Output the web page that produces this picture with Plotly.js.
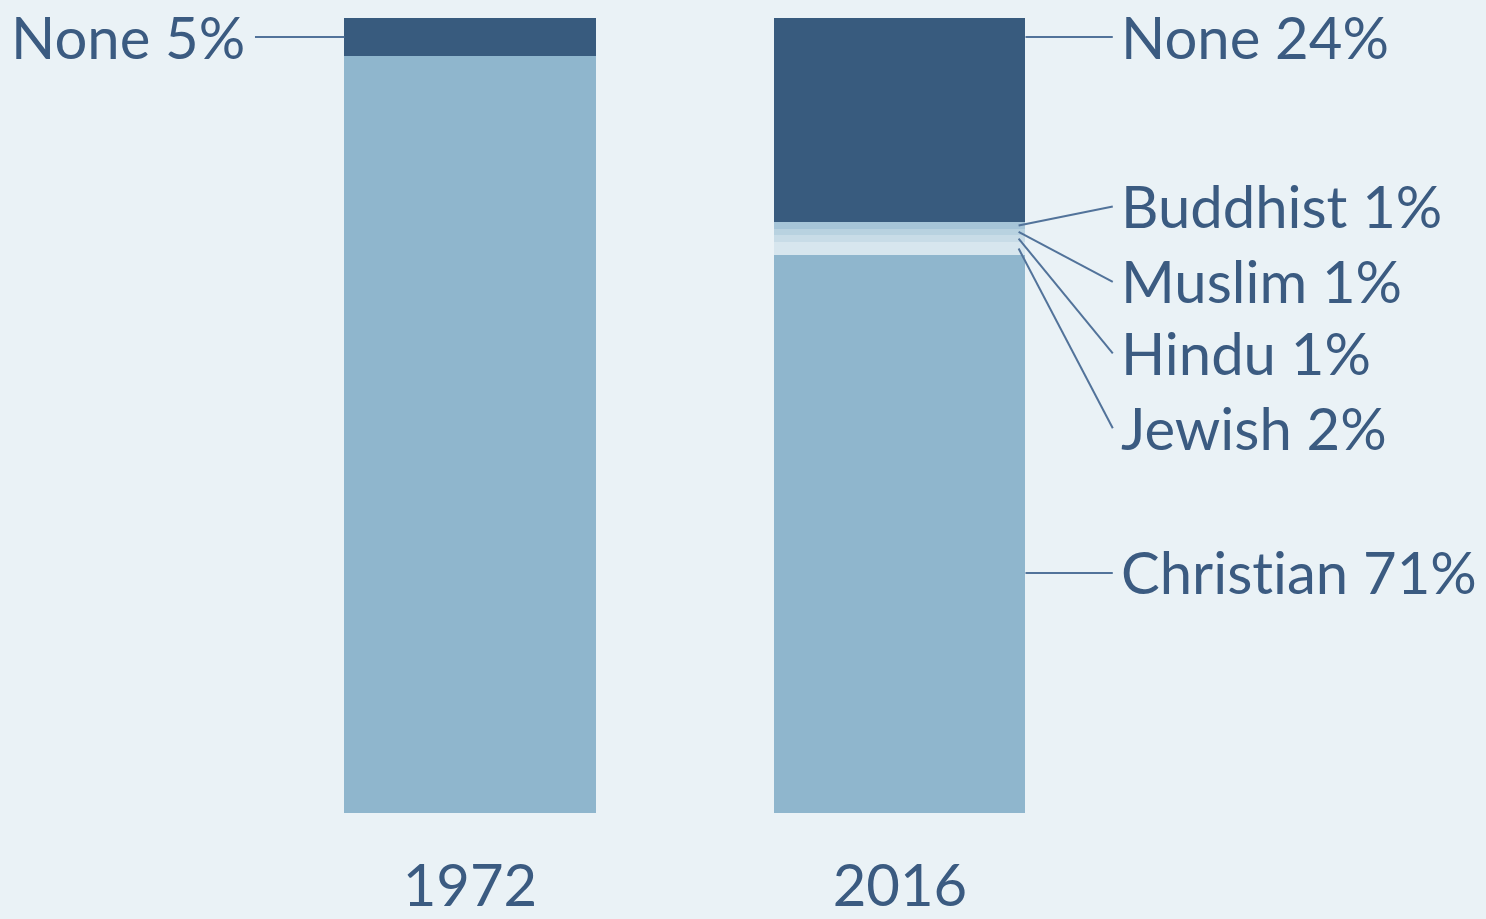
<!DOCTYPE html>
<html>
<head>
<meta charset="utf-8">
<script src="https://cdn.plot.ly/plotly-3.0.1.min.js"></script>
<style>
html,body{margin:0;padding:0;background:#eaf2f6;}
#chart{width:1486px;height:919px;}
text{font-variant-ligatures:none;font-feature-settings:"liga" 0;}
</style>
</head>
<body>
<div id="chart"></div>
<script>
// ---- data ----
const years = ['1972', '2016'];
const religions = ['Christian', 'Jewish', 'Hindu', 'Muslim', 'Buddhist', 'None']; // bottom -> top
const christian = [95.2, 70.2];
const jewish    = [0, 1.6];
const hindu     = [0, 0.9];
const muslim    = [0, 0.8];
const buddhist  = [0, 0.8];
const none      = [4.8, 25.7];
const labelPct1972 = { None: '5%' };
const labelPct2016 = { None: '24%', Buddhist: '1%', Muslim: '1%', Hindu: '1%', Jewish: '2%', Christian: '71%' };

// ---- styles ----
const colors = {
  Christian: '#8fb6cd', Jewish: '#d7e6ee', Hindu: '#c8dce7',
  Muslim: '#b8d2e0', Buddhist: '#a6c5d8', None: '#385b7e'
};
const textColor = '#3b5b81';
const lineColor = '#52739a';
const FONT = 'Lato, "Open Sans", sans-serif';
const BARW = 0.584;

const series = { Christian: christian, Jewish: jewish, Hindu: hindu, Muslim: muslim, Buddhist: buddhist, None: none };

const traces = religions.map(r => ({
  type: 'bar', name: r, x: years, y: series[r],
  width: BARW,
  marker: { color: colors[r], line: { width: 0 } },
  hoverinfo: 'x+y+name'
}));

function mid(yearIdx, rel) {
  let base = 0;
  for (const r of religions) {
    if (r === rel) return base + series[r][yearIdx] / 2;
    base += series[r][yearIdx];
  }
}

// label placement (layout, in axis units)
const rightLabelY = { None: 97.6, Buddhist: 76.3, Muslim: 66.8, Hindu: 57.8, Jewish: 48.4, Christian: 30.2 };
const rightOrder = ['None', 'Buddhist', 'Muslim', 'Hindu', 'Jewish', 'Christian'];
const horizontal = { None: true, Christian: true };
const TAIL_R = 1.495, TAIL_L = -0.5;

const annotations = [];
const shapes = [];
rightOrder.forEach(r => {
  const tipY = horizontal[r] ? rightLabelY[r] : mid(1, r);
  shapes.push({
    type: 'line', xref: 'x', yref: 'y',
    x0: 1 + BARW / 2 - (horizontal[r] ? 0 : 0.016), y0: tipY,
    x1: TAIL_R, y1: rightLabelY[r],
    line: { color: lineColor, width: 2 }
  });
  annotations.push({
    xref: 'x', yref: 'y', x: TAIL_R, y: rightLabelY[r],
    text: r + ' ' + labelPct2016[r], showarrow: false,
    xanchor: 'left', yanchor: 'middle', xshift: 6, yshift: 1,
    font: { family: FONT, size: 58, color: textColor }
  });
});
shapes.push({
  type: 'line', xref: 'x', yref: 'y',
  x0: -BARW / 2, y0: mid(0, 'None'), x1: TAIL_L, y1: 97.6,
  line: { color: lineColor, width: 2 }
});
annotations.push({
  xref: 'x', yref: 'y', x: TAIL_L, y: 97.6,
  text: 'None ' + labelPct1972.None, showarrow: false,
  xanchor: 'right', yanchor: 'middle', xshift: -8, yshift: 1,
  font: { family: FONT, size: 58, color: textColor }
});

const layout = {
  width: 1486, height: 919,
  margin: { l: 0, r: 0, t: 18, b: 106 },
  paper_bgcolor: '#eaf2f6', plot_bgcolor: '#eaf2f6',
  barmode: 'stack', bargap: 0,
  showlegend: false,
  xaxis: {
    type: 'category', range: [-1.093, 2.363],
    showgrid: false, zeroline: false, showline: false, ticks: '',
    ticklabelstandoff: 34,
    tickfont: { family: FONT, size: 58, color: textColor }
  },
  yaxis: {
    range: [0, 100], showgrid: false, zeroline: false, showline: false,
    showticklabels: false, ticks: ''
  },
  shapes: shapes,
  annotations: annotations
};

Plotly.newPlot('chart', traces, layout, { displayModeBar: false, staticPlot: true });
</script>
</body>
</html>
